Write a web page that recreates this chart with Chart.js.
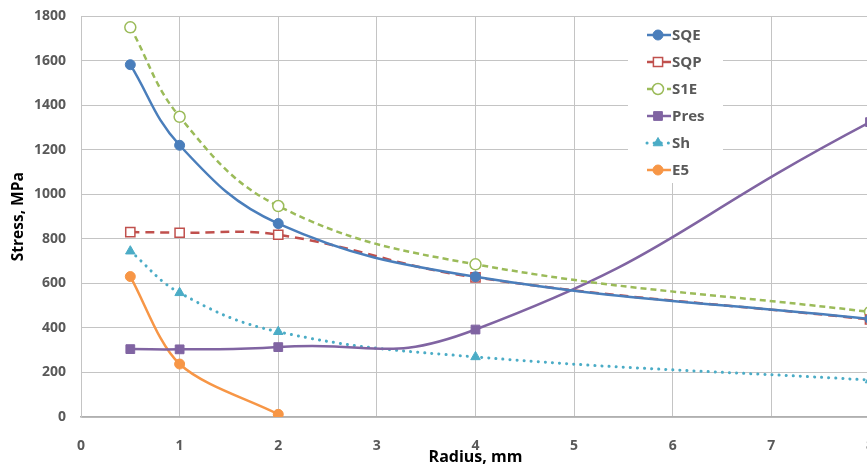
<!DOCTYPE html>
<html>
<head>
<meta charset="utf-8">
<script src="https://cdn.jsdelivr.net/npm/chart.js@4/dist/chart.umd.min.js"></script>
<style>
  html, body { margin: 0; padding: 0; background: #fff; overflow: hidden; }
  #wrap { width: 867px; height: 476px; overflow: hidden; }
  canvas { display: block; margin-top: -7px; }
</style>
</head>
<body>
<div id="wrap"><canvas id="stressChart" width="895" height="483"></canvas></div>
<script>
// --- data ---
const radius   = [0.5, 1, 2, 4, 8];
const radiusE5 = [0.5, 1, 2];
const sqe  = [1583, 1221, 869, 630, 440];
const sqp  = [831, 828, 819, 627, 438];
const s1e  = [1751, 1349, 948, 686, 472];
const pres = [305, 304, 314, 393, 1325];
const sh   = [745, 558, 383, 270, 166];
const e5   = [631, 238, 12];
const xTicks = [0, 1, 2, 3, 4, 5, 6, 7, 8];
const yTicks = [0, 200, 400, 600, 800, 1000, 1200, 1400, 1600, 1800];

const FONT = "'Open Sans', 'DejaVu Sans', sans-serif";
const SHIFT = 7; // canvas is pulled up by this many px (see css)

function pts(xs, ys) { return ys.map((y, i) => ({ x: xs[i], y: y })); }

function series(label, xs, ys, color, style) {
    return Object.assign({
        label: label,
        data: pts(xs, ys),
        borderColor: color,
        backgroundColor: color,
        pointBackgroundColor: color,
        pointBorderColor: color,
        borderWidth: 2.5,
        pointBorderWidth: 1,
        pointRadius: 5,
        pointHoverRadius: 5,
        tension: 0.4,
        fill: false
    }, style);
}

const datasets = [
    series('SQE', radius, sqe, '#4A7EBB', { pointStyle: 'circle', pointRadius: 5 }),
    series('SQP', radius, sqp, '#C0504D', { pointStyle: 'rect', pointRadius: 6.5, pointBackgroundColor: '#fff', pointBorderWidth: 1.5, borderDash: [9, 6] }),
    series('S1E', radius, s1e, '#9BBB59', { pointStyle: 'circle', pointRadius: 5.5, pointBackgroundColor: '#fff', pointBorderWidth: 1.5, borderDash: [6, 4] }),
    series('Pres', radius, pres, '#8064A2', { pointStyle: 'rect', pointRadius: 6.2, tension: 0.5 }),
    series('Sh', radius, sh, '#4BACC6', { pointStyle: 'triangle', pointRadius: 5.5, borderWidth: 3, borderDash: [0.1, 7], borderCapStyle: 'round' }),
    series('E5', radiusE5, e5, '#F79646', { pointStyle: 'circle', pointRadius: 5, tension: 0.3 })
];

// draw a marker the same way as the dataset points
function marker(ctx, ds, x, y) {
    const r = ds.pointRadius;
    ctx.save();
    ctx.setLineDash([]);
    ctx.fillStyle = ds.pointBackgroundColor;
    ctx.strokeStyle = ds.pointBorderColor;
    ctx.lineWidth = ds.pointBorderWidth;
    ctx.beginPath();
    if (ds.pointStyle === 'rect') {
        const s = Math.SQRT1_2 * r;
        ctx.rect(x - s, y - s, 2 * s, 2 * s);
    } else if (ds.pointStyle === 'triangle') {
        const side = 3 * r / Math.sqrt(3), h = side * Math.sqrt(3) / 2;
        ctx.moveTo(x - side / 2, y + h / 3);
        ctx.lineTo(x + side / 2, y + h / 3);
        ctx.lineTo(x, y - 2 * h / 3);
        ctx.closePath();
    } else {
        ctx.arc(x, y, r, 0, Math.PI * 2);
    }
    ctx.fill();
    ctx.stroke();
    ctx.restore();
}

// legend box sitting inside the plot, like the original
const insideLegend = {
    id: 'insideLegend',
    beforeDatasetsDraw(chart) {
        const ctx = chart.ctx;
        ctx.save();
        ctx.translate(0, SHIFT);
        ctx.fillStyle = '#fff';
        ctx.fillRect(628, 17, 95, 166);
        chart.data.datasets.forEach((ds, i) => {
            const y = 35 + i * 27;
            ctx.save();
            ctx.strokeStyle = ds.borderColor;
            ctx.lineWidth = ds.borderWidth;
            ctx.lineCap = ds.borderCapStyle || 'butt';
            ctx.setLineDash(ds.borderDash || []);
            ctx.beginPath();
            ctx.moveTo(647, y);
            ctx.lineTo(671, y);
            ctx.stroke();
            ctx.restore();
            marker(ctx, ds, 658, y);
            ctx.fillStyle = '#595959';
            ctx.font = 'bold 15px ' + FONT;
            ctx.textBaseline = 'middle';
            ctx.textAlign = 'left';
            ctx.fillText(ds.label, 672, y + 1);
        });
        ctx.restore();
    }
};

new Chart(document.getElementById('stressChart'), {
    type: 'line',
    data: { datasets: datasets },
    options: {
        responsive: false,
        animation: false,
        layout: { padding: { left: 0, top: 8, right: 7, bottom: 0 } },
        plugins: {
            legend: { display: false },
            tooltip: { enabled: false }
        },
        scales: {
            x: {
                type: 'linear',
                min: 0,
                max: 8,
                afterBuildTicks: s => { s.ticks = xTicks.map(v => ({ value: v })); },
                afterFit: s => { s.height = 59; },
                grid: { color: '#C4C4C4', drawTicks: false },
                border: { color: '#B0B0B0', width: 1.5 },
                ticks: { padding: 21, color: '#595959', font: { family: FONT, size: 14, weight: 'bold' },
                         callback: v => String(v) },
                title: { display: true, text: 'Radius, mm', color: '#000', padding: { top: 0, bottom: 9 },
                         font: { family: FONT, size: 16, weight: 'bold', lineHeight: 1.2 } }
            },
            y: {
                min: 0,
                max: 1800,
                afterBuildTicks: s => { s.ticks = yTicks.map(v => ({ value: v })); },
                afterFit: s => { s.width = 81; },
                grid: { color: '#C4C4C4', drawTicks: false },
                border: { color: '#C4C4C4', width: 1 },
                ticks: { padding: 15, color: '#595959', font: { family: FONT, size: 14, weight: 'bold' },
                         callback: v => String(v) },
                title: { display: true, text: 'Stress, MPa', color: '#000', padding: { top: 9, bottom: 0 },
                         font: { family: FONT, size: 15.5, weight: 'bold', lineHeight: 1.2 } }
            }
        }
    },
    plugins: [insideLegend]
});
</script>
</body>
</html>
